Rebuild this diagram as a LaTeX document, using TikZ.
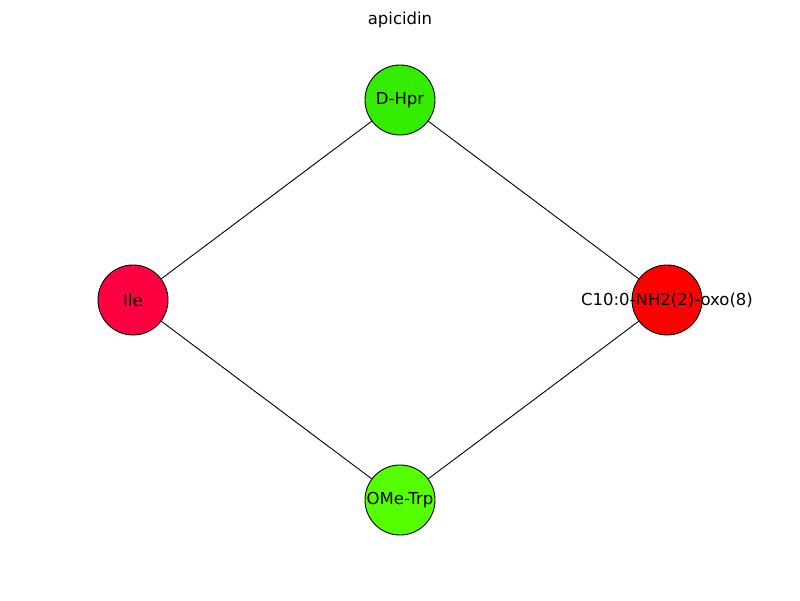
\documentclass[tikz,border=0pt]{standalone}
\usepackage{fontspec}
\setmainfont{DejaVu Sans}
\definecolor{chpr}{RGB}{51,236,0}
\definecolor{ctrp}{RGB}{85,255,0}
\definecolor{cile}{RGB}{255,0,64}
\definecolor{cten}{RGB}{255,0,0}
\begin{document}
\begin{tikzpicture}[x=1pt,y=1pt,
  lbl/.style={font=\fontsize{16.5}{19}\selectfont,inner sep=0pt},
  res/.style={circle,draw=black,line width=0.9pt,minimum size=70pt,inner sep=0pt,lbl},
  edge/.style={draw=black,line width=0.9pt}]
\useasboundingbox (0,0) rectangle (800,600);
\node[lbl] (title) at (400,580) {apicidin};
\node[res,fill=chpr] (hpr) at (400,500) {D-Hpr};
\node[res,fill=cile] (ile) at (133,300) {Ile};
\node[res,fill=cten] (c10) at (667,300) {};
\node[res,fill=ctrp] (trp) at (400,100) {OMe-Trp};
\node[lbl] (c10l) at (c10.center) {C10:0-NH2(2)-oxo(8)};
\draw[edge] (hpr) -- (ile);
\draw[edge] (hpr) -- (c10);
\draw[edge] (ile) -- (trp);
\draw[edge] (trp) -- (c10);
\end{tikzpicture}
\end{document}
